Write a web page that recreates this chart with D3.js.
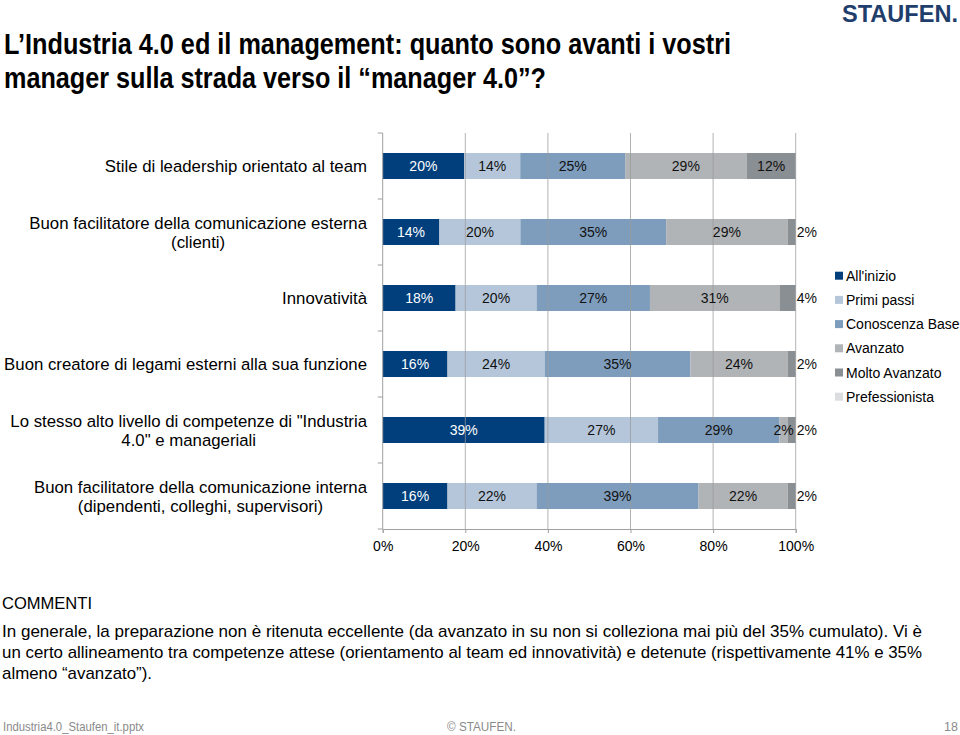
<!DOCTYPE html>
<html><head><meta charset="utf-8">
<script src="https://cdn.jsdelivr.net/npm/d3@7"></script>
<style>
html,body{margin:0;padding:0;background:#fff;}
svg{display:block;font-family:"Liberation Sans",Arial,sans-serif;}
</style></head>
<body>
<svg id="chart" width="960" height="735"></svg>
<script>
// ---------- data ----------
const categoryLines = [
  ["Stile di leadership orientato al team"],
  ["Buon facilitatore della comunicazione esterna", "(clienti)"],
  ["Innovatività"],
  ["Buon creatore di legami esterni alla sua funzione"],
  ["Lo stesso alto livello di competenze di \"Industria", "4.0\" e manageriali"],
  ["Buon facilitatore della comunicazione interna", "(dipendenti, colleghi, supervisori)"]
];
const seriesNames = ["All'inizio", "Primi passi", "Conoscenza Base", "Avanzato", "Molto Avanzato", "Prefessionista"];
const allInizio      = [19.7, 13.73, 17.65, 15.69, 39.22, 15.69];
const primiPassi     = [13.6, 19.61, 19.61, 23.53, 27.45, 21.57];
const conoscenzaBase = [25.4, 35.29, 27.45, 35.29, 29.41, 39.22];
const avanzato       = [29.4, 29.41, 31.37, 23.53, 1.96, 21.57];
const moltoAvanzato  = [11.9, 1.96, 3.92, 1.96, 1.96, 1.96];
const prefessionista = [0, 0, 0, 0, 0, 0];
const xTicks = [0, 20, 40, 60, 80, 100];
const seriesColors = ["#003e7c", "#b5c6da", "#7e9dbd", "#b1b4b7", "#8a8f93", "#dcdde0"];

const titleLines = ["L’Industria 4.0 ed il management: quanto sono avanti i vostri", "manager sulla strada verso il “manager 4.0”?"];
const commentHeading = "COMMENTI";
const commentLines = [
  "In generale, la preparazione non è ritenuta eccellente (da avanzato in su non si colleziona mai più del 35% cumulato). Vi è",
  "un certo allineamento tra competenze attese (orientamento al team ed innovatività) e detenute (rispettivamente 41% e 35%",
  "almeno “avanzato”)."
];

// ---------- build ----------
const seriesValues = [allInizio, primiPassi, conoscenzaBase, avanzato, moltoAvanzato, prefessionista];
const categories = categoryLines.map(l => l.join(" "));
const rows = categories.map((c, i) => {
  let acc = 0;
  return seriesValues.map((vals, s) => {
    const v = vals[i]; const d = {cat: c, s, v, x0: acc, x1: acc + v}; acc += v; return d;
  });
});

const svg = d3.select("#chart");
const x = d3.scaleLinear().domain([0, 100]).range([382.7, 795.7]);
const y = d3.scaleBand().domain(categories).range([133, 529]).paddingInner(0.606).paddingOuter(0.303);

// header
svg.append("text").attr("x", 842).attr("y", 22).attr("font-size", 23).attr("font-weight", "bold")
  .attr("fill", "#1f3e6c").attr("textLength", 116).attr("lengthAdjust", "spacingAndGlyphs")
  .text("STAUFEN.");
const titleW = [727, 542];
titleLines.forEach((t, i) => {
  svg.append("text").attr("x", 4).attr("y", 54 + i * 34).attr("font-size", 30).attr("font-weight", "bold")
    .style("font-family", "'Liberation Sans Narrow','Arial Narrow','Liberation Sans',sans-serif")
    .attr("fill", "#000").attr("textLength", titleW[i]).attr("lengthAdjust", "spacingAndGlyphs").text(t);
});

// bars
const bars = svg.append("g");
rows.forEach(r => {
  bars.selectAll(null).data(r.filter(d => d.v > 0)).enter().append("rect")
    .attr("x", d => x(d.x0)).attr("width", d => x(d.x1) - x(d.x0))
    .attr("y", d => y(d.cat)).attr("height", y.bandwidth())
    .attr("fill", d => seriesColors[d.s]);
});

// gridlines (drawn over bars like the original)
svg.append("g").selectAll("line").data(xTicks.slice(1)).enter().append("line")
  .attr("x1", d => x(d)).attr("x2", d => x(d)).attr("y1", 133).attr("y2", 529)
  .attr("stroke", "#9a9a9a").attr("stroke-opacity", 0.75).attr("stroke-width", 1);

// axes
const xAxis = svg.append("g").attr("transform", "translate(0,529)")
  .call(d3.axisBottom(x).tickValues(xTicks).tickFormat(d => d + "%").tickSize(4).tickPadding(8));
xAxis.select(".domain").attr("stroke", "#a0a0a0");
xAxis.selectAll(".tick line").attr("stroke", "#a0a0a0");
xAxis.selectAll("text").attr("font-size", 14).attr("fill", "#000").style("font-family", "'Liberation Sans',Arial,sans-serif");

const yAxis = svg.append("g").attr("transform", `translate(${x(0)},0)`);
yAxis.append("line").attr("x1", 0).attr("x2", 0).attr("y1", 133).attr("y2", 529).attr("stroke", "#a0a0a0");
yAxis.selectAll(".bt").data(d3.range(categories.length + 1)).enter().append("line")
  .attr("x1", -5).attr("x2", 0)
  .attr("y1", k => y.range()[0] + k * y.step()).attr("y2", k => y.range()[0] + k * y.step())
  .attr("stroke", "#a0a0a0");

// category labels (block right-aligned, lines centered)
categoryLines.forEach((lines, i) => {
  const cy = y(categories[i]) + y.bandwidth() / 2;
  const g = svg.append("g");
  const lh = 19;
  const texts = lines.map((l, j) => g.append("text").attr("font-size", 16.8).attr("fill", "#000")
    .attr("text-anchor", "middle")
    .attr("y", cy + (j - (lines.length - 1) / 2) * lh + 6).text(l));
  const w = d3.max(texts, t => t.node().getComputedTextLength());
  texts.forEach(t => t.attr("x", 367 - w / 2));
});

// data labels
const labels = svg.append("g").attr("font-size", 14);
rows.forEach(r => {
  const visible = r.filter(d => d.v > 0);
  visible.forEach((d, k) => {
    const isLast = k === visible.length - 1;
    const w = x(d.x1) - x(d.x0);
    const t = labels.append("text").attr("y", y(d.cat) + y.bandwidth() / 2 + 5)
      .attr("fill", d.s === 0 ? "#fff" : "#111").text(Math.round(d.v) + "%");
    if (isLast && w < 20) {
      t.attr("x", x(d.x1) + 1).attr("text-anchor", "start");
    } else {
      t.attr("x", (x(d.x0) + x(d.x1)) / 2).attr("text-anchor", "middle");
    }
  });
});

// legend
const legend = svg.append("g").attr("transform", "translate(835,0)");
seriesNames.forEach((n, i) => {
  const cy = 275.7 + i * 24.2;
  legend.append("rect").attr("x", 0).attr("y", cy - 4).attr("width", 8).attr("height", 8).attr("fill", seriesColors[i]);
  legend.append("text").attr("x", 11).attr("y", cy + 5).attr("font-size", 14).attr("fill", "#000").text(n);
});

// comments
const narrow = "'Liberation Sans Narrow','Arial Narrow','Liberation Sans',sans-serif";
svg.append("text").attr("x", 2).attr("y", 609).attr("font-size", 17).style("font-family", narrow)
  .attr("textLength", 90).attr("lengthAdjust", "spacingAndGlyphs").text(commentHeading);
const cW = [920, 920, 150];
commentLines.forEach((l, i) => {
  svg.append("text").attr("x", 2).attr("y", 637 + i * 21).attr("font-size", 17).style("font-family", narrow)
    .attr("textLength", cW[i]).attr("lengthAdjust", "spacingAndGlyphs").text(l);
});

// footer
const foot = svg.append("g").attr("font-size", 12.5).attr("fill", "#8a8a8a").style("font-family", narrow);
foot.append("text").attr("x", 3).attr("y", 731).attr("textLength", 141).attr("lengthAdjust", "spacingAndGlyphs").text("Industria4.0_Staufen_it.pptx");
foot.append("text").attr("x", 447).attr("y", 731).attr("textLength", 69).attr("lengthAdjust", "spacingAndGlyphs").text("© STAUFEN.");
foot.append("text").attr("x", 958).attr("y", 731).attr("text-anchor", "end").text("18");
</script>
</body></html>
